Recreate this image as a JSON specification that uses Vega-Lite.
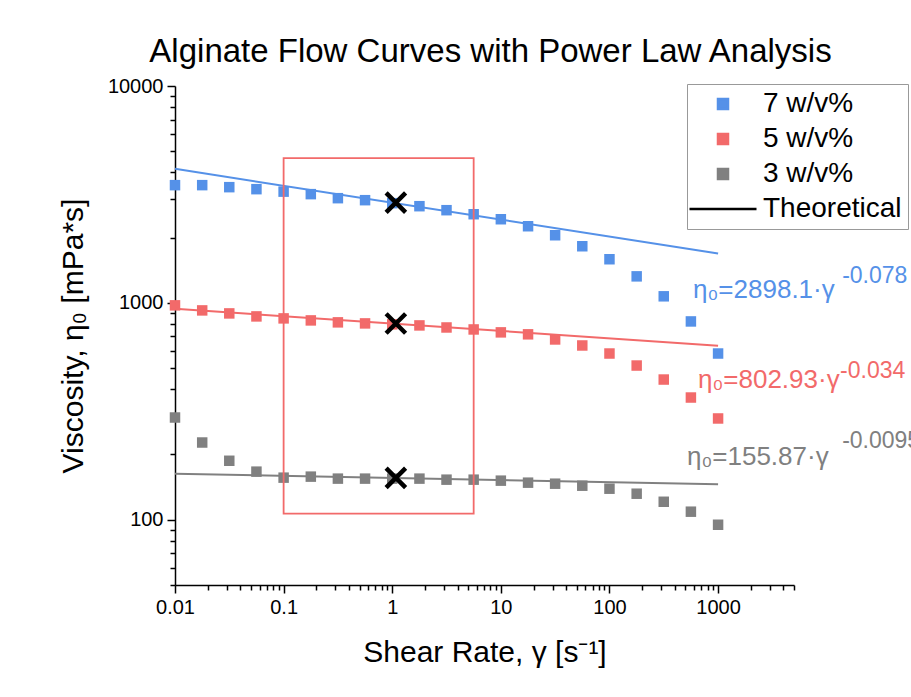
{
  "$schema": "https://vega.github.io/schema/vega-lite/v6.json",
  "width": 619,
  "height": 499,
  "autosize": {"type": "none"},
  "padding": {"left": 175, "top": 86, "right": 117, "bottom": 112},
  "background": "white",
  "config": {
    "view": {"stroke": null},
    "font": "Liberation Sans",
    "axis": {
      "domainColor": "black", "domainWidth": 1.5, "tickColor": "black", "tickWidth": 1.5,
      "labelColor": "black", "titleColor": "black", "labelFont": "Liberation Sans", "titleFont": "Liberation Sans",
      "titleFontWeight": "normal", "grid": false, "labelFontSize": 20, "titleFontSize": 30
    }
  },
  "title": {"text": "Alginate Flow Curves with Power Law Analysis", "fontSize": 33, "fontWeight": "normal", "font": "Liberation Sans", "color": "black", "anchor": "middle", "offset": 7, "dx": 6},
  "datasets": {
    "pts": [
      {"g": "7 w/v%", "x": 0.01, "y": 3490}, {"g": "7 w/v%", "x": 0.0178, "y": 3490}, {"g": "7 w/v%", "x": 0.0316, "y": 3416}, {"g": "7 w/v%", "x": 0.0562, "y": 3344},
      {"g": "7 w/v%", "x": 0.1, "y": 3257}, {"g": "7 w/v%", "x": 0.178, "y": 3172}, {"g": "7 w/v%", "x": 0.316, "y": 3039}, {"g": "7 w/v%", "x": 0.562, "y": 2975},
      {"g": "7 w/v%", "x": 1, "y": 2882}, {"g": "7 w/v%", "x": 1.78, "y": 2791}, {"g": "7 w/v%", "x": 3.16, "y": 2675}, {"g": "7 w/v%", "x": 5.62, "y": 2563},
      {"g": "7 w/v%", "x": 10, "y": 2430}, {"g": "7 w/v%", "x": 17.8, "y": 2256}, {"g": "7 w/v%", "x": 31.6, "y": 2050}, {"g": "7 w/v%", "x": 56.2, "y": 1824},
      {"g": "7 w/v%", "x": 100, "y": 1589}, {"g": "7 w/v%", "x": 178, "y": 1325}, {"g": "7 w/v%", "x": 316, "y": 1072}, {"g": "7 w/v%", "x": 562, "y": 821},
      {"g": "7 w/v%", "x": 1000, "y": 584},
      {"g": "5 w/v%", "x": 0.01, "y": 974}, {"g": "5 w/v%", "x": 0.0178, "y": 923}, {"g": "5 w/v%", "x": 0.0316, "y": 894}, {"g": "5 w/v%", "x": 0.0562, "y": 866},
      {"g": "5 w/v%", "x": 0.1, "y": 848}, {"g": "5 w/v%", "x": 0.178, "y": 830}, {"g": "5 w/v%", "x": 0.316, "y": 813}, {"g": "5 w/v%", "x": 0.562, "y": 804},
      {"g": "5 w/v%", "x": 1, "y": 796}, {"g": "5 w/v%", "x": 1.78, "y": 787}, {"g": "5 w/v%", "x": 3.16, "y": 770}, {"g": "5 w/v%", "x": 5.62, "y": 754},
      {"g": "5 w/v%", "x": 10, "y": 731}, {"g": "5 w/v%", "x": 17.8, "y": 716}, {"g": "5 w/v%", "x": 31.6, "y": 678}, {"g": "5 w/v%", "x": 56.2, "y": 636},
      {"g": "5 w/v%", "x": 100, "y": 584}, {"g": "5 w/v%", "x": 178, "y": 514}, {"g": "5 w/v%", "x": 316, "y": 443}, {"g": "5 w/v%", "x": 562, "y": 366},
      {"g": "5 w/v%", "x": 1000, "y": 293},
      {"g": "3 w/v%", "x": 0.01, "y": 296}, {"g": "3 w/v%", "x": 0.0178, "y": 227}, {"g": "3 w/v%", "x": 0.0316, "y": 187}, {"g": "3 w/v%", "x": 0.0562, "y": 166.6},
      {"g": "3 w/v%", "x": 0.1, "y": 156.3}, {"g": "3 w/v%", "x": 0.178, "y": 158}, {"g": "3 w/v%", "x": 0.316, "y": 154.7}, {"g": "3 w/v%", "x": 0.562, "y": 154.7},
      {"g": "3 w/v%", "x": 1, "y": 154.7}, {"g": "3 w/v%", "x": 1.78, "y": 154.7}, {"g": "3 w/v%", "x": 3.16, "y": 153}, {"g": "3 w/v%", "x": 5.62, "y": 153},
      {"g": "3 w/v%", "x": 10, "y": 151.4}, {"g": "3 w/v%", "x": 17.8, "y": 148.2}, {"g": "3 w/v%", "x": 31.6, "y": 146.6}, {"g": "3 w/v%", "x": 56.2, "y": 143.5},
      {"g": "3 w/v%", "x": 100, "y": 139}, {"g": "3 w/v%", "x": 178, "y": 131.8}, {"g": "3 w/v%", "x": 316, "y": 121}, {"g": "3 w/v%", "x": 562, "y": 108.9},
      {"g": "3 w/v%", "x": 1000, "y": 94.8}
    ],
    "fits": [
      {"g": "7 w/v%", "x": 0.01, "y": 4150}, {"g": "7 w/v%", "x": 1000, "y": 1690},
      {"g": "5 w/v%", "x": 0.01, "y": 939}, {"g": "5 w/v%", "x": 1000, "y": 635},
      {"g": "3 w/v%", "x": 0.01, "y": 162.8}, {"g": "3 w/v%", "x": 1000, "y": 145.9}
    ],
    "marks": [
      {"x": 1.08, "y": 2898.1}, {"x": 1.08, "y": 802.93}, {"x": 1.08, "y": 155.87}
    ],
    "box": [{"x1": 0.1, "x2": 5.62, "y1": 106.6, "y2": 4650}],
    "labels": [
      {"x": 589, "y": 1049, "t": "η₀=2898.1·γ", "c": "#5591E8", "s": 26},
      {"x": 13870, "y": 1231, "t": "-0.078", "c": "#5591E8", "s": 23},
      {"x": 654, "y": 403, "t": "η₀=802.93·γ", "c": "#F26A6A", "s": 26},
      {"x": 13280, "y": 448, "t": "-0.034", "c": "#F26A6A", "s": 23},
      {"x": 518, "y": 178, "t": "η₀=155.87·γ", "c": "#808080", "s": 26},
      {"x": 13870, "y": 215, "t": "-0.0095", "c": "#808080", "s": 23}
    ]
  },
  "layer": [
    {
      "data": {"name": "pts"},
      "mark": {"type": "point", "filled": true, "size": 110, "opacity": 1, "strokeWidth": 2},
      "encoding": {
        "x": {"field": "x", "type": "quantitative",
          "scale": {"type": "log", "domain": [0.01, 5000], "nice": false},
          "axis": {
            "title": "Shear Rate, γ [s⁻¹]", "titlePadding": 20,
            "values": [0.01,0.02,0.03,0.04,0.05,0.06,0.07,0.08,0.09,0.1,0.2,0.3,0.4,0.5,0.6,0.7,0.8,0.9,1,2,3,4,5,6,7,8,9,10,20,30,40,50,60,70,80,90,100,200,300,400,500,600,700,800,900,1000,2000,3000,4000,5000],
            "format": "~g",
            "labelExpr": "indexof([0.01,0.1,1,10,100,1000], datum.value) >= 0 ? datum.label : ''",
            "tickSize": {"condition": {"test": "indexof([0.01,0.1,1,10,100,1000], datum.value) >= 0", "value": 8}, "value": 5},
            "labelPadding": 4, "labelFlush": false, "labelOverlap": false
          }
        },
        "y": {"field": "y", "type": "quantitative",
          "scale": {"type": "log", "domain": [50, 10000], "nice": false},
          "axis": {
            "title": "Viscosity, η₀ [mPa*s]", "titlePadding": 19,
            "values": [50,60,70,80,90,100,200,300,400,500,600,700,800,900,1000,2000,3000,4000,5000,6000,7000,8000,9000,10000],
            "format": "~g",
            "labelExpr": "indexof([100,1000,10000], datum.value) >= 0 ? datum.label : ''",
            "tickSize": {"condition": {"test": "indexof([100,1000,10000], datum.value) >= 0", "value": 8}, "value": 5},
            "labelPadding": 4, "labelFlush": false, "labelOverlap": false
          }
        },
        "color": {"field": "g", "type": "nominal",
          "scale": {"domain": ["7 w/v%", "5 w/v%", "3 w/v%", "Theoretical"], "range": ["#5591E8", "#F26A6A", "#808080", "#000000"]},
          "legend": {
            "title": null, "orient": "none", "legendX": 512, "legendY": -2,
            "labelFont": "Liberation Sans", "labelFontSize": 28, "labelColor": "black",
            "symbolSize": 100, "symbolStrokeWidth": 2.5, "symbolOffset": 16, "labelOffset": 26, "rowPadding": 7,
            "padding": 6, "strokeColor": "#999999", "fillColor": "white"
          }
        },
        "shape": {"field": "g", "type": "nominal",
          "scale": {"domain": ["7 w/v%", "5 w/v%", "3 w/v%", "Theoretical"], "range": ["square", "square", "square", "M-6.7,0H6.7"]}
        },
        "stroke": {"field": "g", "type": "nominal",
          "scale": {"domain": ["7 w/v%", "5 w/v%", "3 w/v%", "Theoretical"], "range": ["transparent", "transparent", "transparent", "#000000"]}
        }
      }
    },
    {
      "data": {"name": "fits"},
      "mark": {"type": "line", "strokeWidth": 2},
      "encoding": {
        "x": {"field": "x", "type": "quantitative"},
        "y": {"field": "y", "type": "quantitative"},
        "color": {"field": "g", "type": "nominal"},
        "detail": {"field": "g"}
      }
    },
    {
      "data": {"name": "box"},
      "mark": {"type": "rect", "fill": null, "fillOpacity": 0, "stroke": "#F26A6A", "strokeWidth": 1.8},
      "encoding": {
        "x": {"field": "x1", "type": "quantitative"},
        "x2": {"field": "x2"},
        "y": {"field": "y1", "type": "quantitative"},
        "y2": {"field": "y2"}
      }
    },
    {
      "data": {"name": "marks"},
      "mark": {"type": "point", "shape": "M-1,-1L1,1M-1,1L1,-1", "size": 380, "filled": false, "stroke": "black", "strokeWidth": 4.5, "opacity": 1},
      "encoding": {
        "x": {"field": "x", "type": "quantitative"},
        "y": {"field": "y", "type": "quantitative"}
      }
    },
    {
      "data": {"name": "labels"},
      "mark": {"type": "text", "align": "left", "baseline": "alphabetic", "font": "Liberation Sans"},
      "encoding": {
        "x": {"field": "x", "type": "quantitative"},
        "y": {"field": "y", "type": "quantitative"},
        "text": {"field": "t"},
        "color": {"field": "c", "type": "nominal", "scale": null},
        "size": {"field": "s", "type": "quantitative", "scale": null}
      }
    }
  ]
}
